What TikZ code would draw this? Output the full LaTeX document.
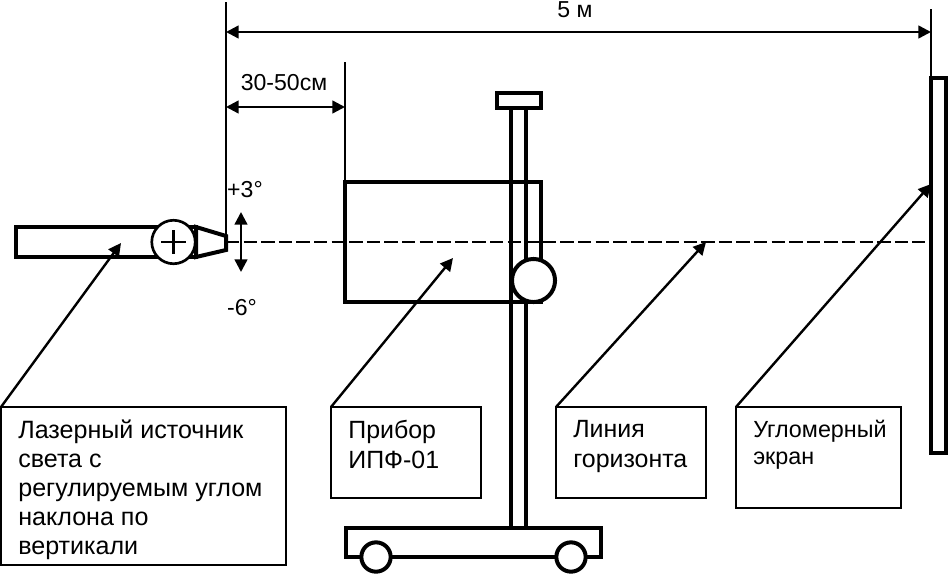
\documentclass[tikz,border=0pt]{standalone}
\usepackage{fontspec}
\setmainfont{Liberation Sans}
\usetikzlibrary{arrows.meta}
\tikzset{
  thick line/.style={line width=3pt,draw=black},
  thin line/.style={line width=1.8pt,draw=black},
  leader/.style={line width=1.8pt,draw=black,-{Triangle[length=9.5pt,width=9.5pt]}},
  dimarrow/.style={line width=1.8pt,draw=black,{Triangle[length=9.5pt,width=9.5pt]}-{Triangle[length=9.5pt,width=9.5pt]}},
  labelbox/.style={draw=black,line width=1.3pt,anchor=north west,inner sep=0pt,outer sep=0pt,align=left,fill=white},
  lbl/.style={inner sep=0pt,font=\fontsize{17.3pt}{22pt}\selectfont},
  solid white/.style={thick line,fill=white}
}
\newcommand{\boxtext}[5]{\parbox[c][\dimexpr#2pt*3/4\relax][t]{\dimexpr#1pt*3/4\relax}{\fontsize{#4}{#5}\selectfont\vspace{10pt}\leftskip=13pt\relax\rightskip=0pt plus 1fil\relax\parindent=0pt #3}}
\begin{document}
\begin{tikzpicture}[x=0.75pt,y=-0.75pt]
\useasboundingbox (0,0) rectangle (948,575);
% laser
\draw[thick line] (196,227) rectangle (16,257);
\draw[thick line,fill=white,line join=miter] (196,227) -- (226,236) -- (226,250) -- (196,257) -- cycle;
\node[circle,solid white,line width=2pt,minimum size=32.6pt,inner sep=0pt] (pivot) at (173.5,242) {};
\draw[thin line] (161,242) -- (186,242) (173.5,230) -- (173.5,254);
% instrument
\draw[thick line] (345,182) rectangle (541,302);
% pole
\draw[thick line] (511,106) -- (511,527) (526,106) -- (526,527);
\draw[solid white] (496.5,92.5) rectangle (540.5,107.5);
\node[circle,solid white,minimum size=32.3pt,inner sep=0pt] (knob) at (533.5,280.5) {};
% cart
\draw[thick line] (346,528) rectangle (601,557);
\node[circle,solid white,minimum size=22pt,inner sep=0pt] (wheelA) at (376,557) {};
\node[circle,solid white,minimum size=22pt,inner sep=0pt] (wheelB) at (571,557) {};
% screen
\draw[solid white] (931,77.5) rectangle (946,453);
% horizon
\coordinate (hstart) at (226,242);
\coordinate (hend) at (925,242);
\draw[line width=1.6pt,dash pattern=on 10pt off 3.2pt] (hstart) -- (hend);
% dimension lines
\coordinate (zeroTop) at (226,2);
\coordinate (zeroBot) at (226,236);
\coordinate (devTop) at (345,62);
\coordinate (devBot) at (345,182);
\coordinate (scrTop) at (931,9);
\coordinate (scrBot) at (931,77);
\draw[thin line] (zeroTop) -- (zeroBot);
\draw[thin line] (devTop) -- (devBot);
\draw[thin line] (scrTop) -- (scrBot);
\coordinate (a5l) at (226,32);
\coordinate (a5r) at (931,32);
\coordinate (a3l) at (226,107);
\coordinate (a3r) at (345,107);
\draw[dimarrow] (a5l) -- (a5r);
\draw[dimarrow] (a3l) -- (a3r);
\coordinate (tiltT) at (241,212);
\coordinate (tiltB) at (241,272);
\draw[dimarrow] (tiltT) -- (tiltB);
% labels
\node[lbl] (five) at (575,9.5) {5 м};
\node[lbl] (range) at (284,83) {30-50см};
\node[lbl] (plus) at (245,190) {+3°};
\node[lbl] (minus) at (242,308) {-6°};
% boxes
\node[labelbox] (boxA) at (1,407) {\boxtext{285}{158}{Лазерный источник\\света с\\регулируемым углом\\наклона по\\вертикали}{18.8pt}{21.7pt}};
\node[labelbox] (boxB) at (331,407) {\boxtext{150}{91}{Прибор\\ИПФ-01}{18.7pt}{22.5pt}};
\node[labelbox] (boxC) at (556,407) {\boxtext{150}{91}{Линия\\горизонта}{18.7pt}{22.5pt}};
\node[labelbox] (boxD) at (736,407) {\boxtext{165}{101}{Угломерный\\экран}{17.5pt}{20.4pt}};
% leaders
\coordinate (tipA) at (121,243);
\coordinate (tipB) at (453,258);
\coordinate (tipC) at (706,242);
\coordinate (tipD) at (931,184);
\draw[leader] (boxA.north west) -- (tipA);
\draw[leader] (boxB.north west) -- (tipB);
\draw[leader] (boxC.north west) -- (tipC);
\draw[leader] (boxD.north west) -- (tipD);
\end{tikzpicture}
\end{document}
